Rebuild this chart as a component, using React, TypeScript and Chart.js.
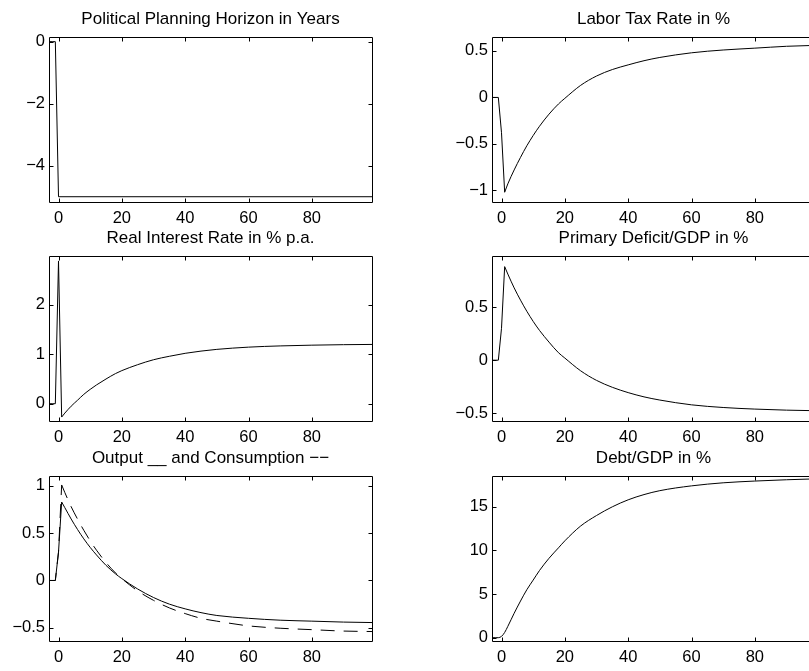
import React, { useEffect, useRef } from "react";
import { Chart, registerables } from "chart.js";

Chart.register(...registerables);

// Horizontal axis: years relative to the policy shock
const yearRange = [-3, 99];
const yearTicks = [0, 20, 40, 60, 80];

// Pre-shock stretch and impact years, joined with straight segments
const leadYears = [-3, -2, -1, 0, 1];
// Adjustment path years, drawn as a smooth curve
const pathYears = [1, 2, 4, 6, 8, 10, 12, 15, 18, 20, 25, 30, 35, 40, 45, 50, 60, 70, 80, 90, 99];

const horizonYears = [-3, -2, -1, 0, 99];
const horizonValues = [0, 0, 0, -5, -5];

const laborTaxLead = [0, 0, 0, -0.38, -1.02];
const laborTaxPath = [-1.02, -0.93, -0.78, -0.645, -0.52, -0.41, -0.31, -0.18, -0.07, -0.01, 0.13, 0.23, 0.3, 0.35, 0.395, 0.43, 0.48, 0.51, 0.53, 0.55, 0.56];

const interestLead = [0, 0, 0, 2.89, -0.27];
const interestPath = [-0.27, -0.19, -0.05, 0.07, 0.19, 0.29, 0.38, 0.5, 0.61, 0.67, 0.79, 0.89, 0.96, 1.02, 1.065, 1.1, 1.145, 1.17, 1.185, 1.195, 1.2];

const deficitLead = [0, 0, 0, 0.3, 0.88];
const deficitPath = [0.88, 0.81, 0.68, 0.565, 0.46, 0.365, 0.28, 0.17, 0.07, 0.02, -0.1, -0.19, -0.255, -0.305, -0.345, -0.375, -0.42, -0.445, -0.46, -0.47, -0.475];

const outputLead = [0, 0, 0, 0.3, 0.83];
const outputPath = [0.83, 0.77, 0.65, 0.54, 0.44, 0.35, 0.27, 0.16, 0.07, 0.02, -0.09, -0.18, -0.25, -0.3, -0.34, -0.37, -0.4, -0.42, -0.43, -0.44, -0.445];

const consumptionLead = [0, 0, 0, 0.3, 1.01];
const consumptionPath = [1.01, 0.93, 0.78, 0.65, 0.53, 0.42, 0.32, 0.19, 0.08, 0.02, -0.11, -0.21, -0.29, -0.35, -0.4, -0.43, -0.48, -0.505, -0.52, -0.535, -0.54];

const debtYears = [-3, -2, -1, 0, 1, 2, 4, 6, 8, 10, 12, 15, 18, 20, 25, 30, 35, 40, 45, 50, 60, 70, 80, 90, 99];
const debtValues = [0, 0, 0, 0.15, 0.6, 1.3, 2.8, 4.2, 5.5, 6.6, 7.7, 9.1, 10.3, 11.1, 12.8, 14.0, 15.0, 15.8, 16.4, 16.85, 17.4, 17.75, 17.95, 18.1, 18.2];

const FONT = "'Liberation Sans', Arial, Helvetica, sans-serif";

// Canvas geometry of one subplot: room for y labels, title, x labels
const PAD_LEFT = 49;
const PAD_TOP = 37;
const PAD_BOTTOM = 30;
const PAD_RIGHT = 20;
const BOX_W = 323;
const BOX_H = 165;
const CANVAS_W = PAD_LEFT + BOX_W + PAD_RIGHT;
const CANVAS_H = PAD_TOP + BOX_H + PAD_BOTTOM;
const COL_LEFT = [0, 443];
const ROW_TOP = [0, 219, 439];
const TICK_LEN = 4;

type Series = { xs: number[]; ys: number[]; smooth?: boolean; dashed?: boolean };

type Panel = {
  title: string;
  col: number;
  row: number;
  yMin: number;
  yMax: number;
  yTicks: number[];
  series: Series[];
};

const panels: Panel[] = [
  {
    title: "Political Planning Horizon in Years",
    col: 0,
    row: 0,
    yMin: -5.17,
    yMax: 0.15,
    yTicks: [-4, -2, 0],
    series: [{ xs: horizonYears, ys: horizonValues }],
  },
  {
    title: "Labor Tax Rate in %",
    col: 1,
    row: 0,
    yMin: -1.125,
    yMax: 0.65,
    yTicks: [-1, -0.5, 0, 0.5],
    series: [
      { xs: leadYears, ys: laborTaxLead },
      { xs: pathYears, ys: laborTaxPath, smooth: true },
    ],
  },
  {
    title: "Real Interest Rate in % p.a.",
    col: 0,
    row: 1,
    yMin: -0.35,
    yMax: 2.99,
    yTicks: [0, 1, 2],
    series: [
      { xs: leadYears, ys: interestLead },
      { xs: pathYears, ys: interestPath, smooth: true },
    ],
  },
  {
    title: "Primary Deficit/GDP in %",
    col: 1,
    row: 1,
    yMin: -0.572,
    yMax: 0.98,
    yTicks: [-0.5, 0, 0.5],
    series: [
      { xs: leadYears, ys: deficitLead },
      { xs: pathYears, ys: deficitPath, smooth: true },
    ],
  },
  {
    title: "Output __ and Consumption \u2212\u2212",
    col: 0,
    row: 2,
    yMin: -0.64,
    yMax: 1.105,
    yTicks: [-0.5, 0, 0.5, 1],
    series: [
      { xs: leadYears, ys: outputLead },
      { xs: pathYears, ys: outputPath, smooth: true },
      { xs: leadYears, ys: consumptionLead, dashed: true },
      { xs: pathYears, ys: consumptionPath, smooth: true, dashed: true },
    ],
  },
  {
    title: "Debt/GDP in %",
    col: 1,
    row: 2,
    yMin: -0.38,
    yMax: 18.53,
    yTicks: [0, 5, 10, 15],
    series: [{ xs: debtYears, ys: debtValues, smooth: true }],
  },
];

const formatTick = (v: number) => String(v).replace("-", "\u2212");

// Axes box with inward tick marks on all four sides
const framePlugin = {
  id: "frame",
  afterDatasetsDraw(chart: any) {
    const { ctx, chartArea: a, scales } = chart;
    const left = Math.round(a.left) + 0.5;
    const right = Math.round(a.right) + 0.5;
    const top = Math.round(a.top) + 0.5;
    const bottom = Math.round(a.bottom) + 0.5;
    ctx.save();
    ctx.strokeStyle = "#000";
    ctx.lineWidth = 1;
    ctx.beginPath();
    ctx.rect(left, top, right - left, bottom - top);
    for (const t of scales.x.ticks) {
      const px = Math.round(scales.x.getPixelForValue(t.value)) + 0.5;
      ctx.moveTo(px, bottom);
      ctx.lineTo(px, bottom - TICK_LEN);
      ctx.moveTo(px, top);
      ctx.lineTo(px, top + TICK_LEN);
    }
    for (const t of scales.y.ticks) {
      const py = Math.round(scales.y.getPixelForValue(t.value)) + 0.5;
      ctx.moveTo(left, py);
      ctx.lineTo(left + TICK_LEN, py);
      ctx.moveTo(right, py);
      ctx.lineTo(right - TICK_LEN, py);
    }
    ctx.stroke();
    ctx.restore();
  },
};

function PanelChart({ panel }: { panel: Panel }) {
  const ref = useRef<HTMLCanvasElement | null>(null);

  useEffect(() => {
    if (!ref.current) return;
    const datasets = panel.series.map((s) => ({
      data: s.xs.map((x, i) => ({ x, y: s.ys[i] })),
      borderColor: "#000",
      borderWidth: 1,
      borderDash: s.dashed ? [14, 9] : [],
      pointRadius: 0,
      fill: false,
      tension: 0,
      cubicInterpolationMode: s.smooth ? "monotone" : "default",
    }));

    const chart = new Chart(ref.current, {
      type: "line",
      data: { datasets } as any,
      options: {
        responsive: false,
        animation: false,
        devicePixelRatio: 1,
        layout: { padding: { left: 0, top: 0, bottom: 0, right: PAD_RIGHT } },
        plugins: {
          legend: { display: false },
          tooltip: { enabled: false },
          title: {
            display: true,
            text: panel.title,
            fullSize: false,
            color: "#000",
            font: { family: FONT, size: 17, weight: "normal", lineHeight: 1.2 },
            padding: { top: 9.2, bottom: 7.4 },
          },
        },
        scales: {
          x: {
            type: "linear",
            position: "bottom",
            min: yearRange[0],
            max: yearRange[1],
            grid: { display: false, drawTicks: false },
            border: { display: false },
            ticks: {
              color: "#000",
              font: { family: FONT, size: 16.5, lineHeight: 1.2 },
              padding: 6.6,
              maxRotation: 0,
              autoSkip: false,
              callback: (v: any) => formatTick(Number(v)),
            },
            afterBuildTicks: (axis: any) => {
              axis.ticks = yearTicks.map((value) => ({ value }));
            },
            afterFit: (axis: any) => {
              axis.height = PAD_BOTTOM;
            },
          },
          y: {
            type: "linear",
            position: "left",
            min: panel.yMin,
            max: panel.yMax,
            grid: { display: false, drawTicks: false },
            border: { display: false },
            ticks: {
              color: "#000",
              font: { family: FONT, size: 16.5, lineHeight: 1.2 },
              padding: 4,
              autoSkip: false,
              callback: (v: any) => formatTick(Number(v)),
            },
            afterBuildTicks: (axis: any) => {
              axis.ticks = panel.yTicks.map((value) => ({ value }));
            },
            afterFit: (axis: any) => {
              axis.width = PAD_LEFT;
            },
          },
        },
      } as any,
      plugins: [framePlugin],
    });
    return () => chart.destroy();
  }, [panel]);

  return (
    <canvas
      ref={ref}
      width={CANVAS_W}
      height={CANVAS_H}
      style={{
        position: "absolute",
        left: COL_LEFT[panel.col],
        top: ROW_TOP[panel.row],
        width: CANVAS_W,
        height: CANVAS_H,
      }}
    />
  );
}

export default function App() {
  return (
    <div
      style={{
        position: "fixed",
        left: 0,
        top: 0,
        width: 809,
        height: 671,
        overflow: "hidden",
        background: "#fff",
      }}
    >
      {panels.map((p) => (
        <PanelChart key={p.title} panel={p} />
      ))}
    </div>
  );
}
